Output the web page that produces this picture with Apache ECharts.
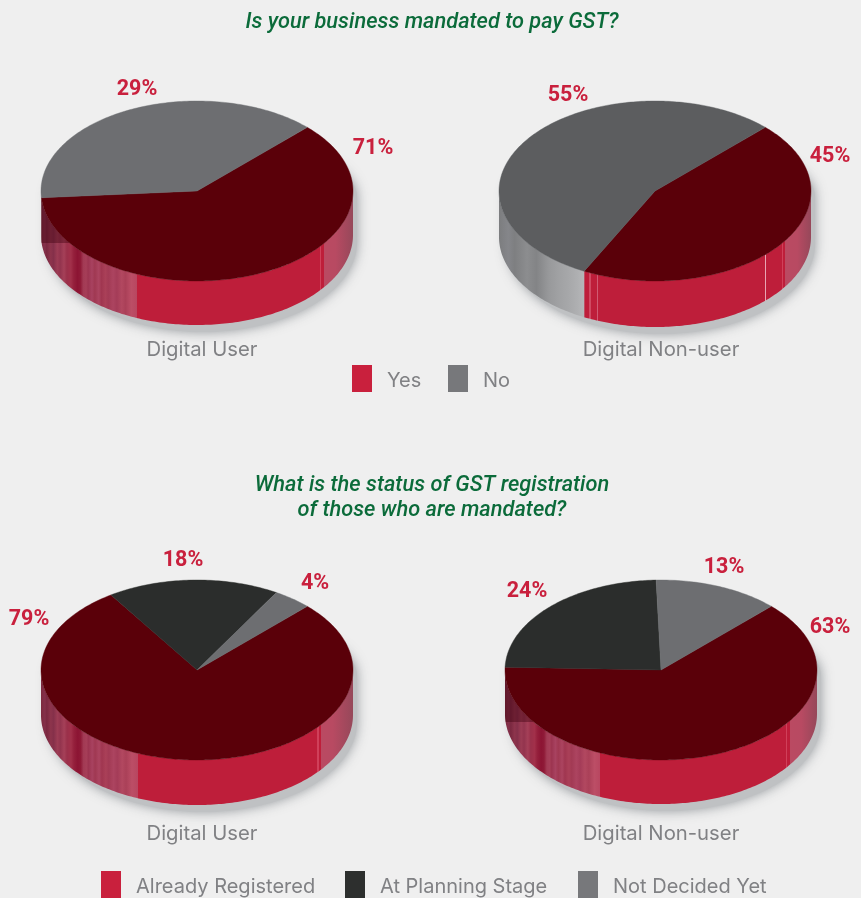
<!DOCTYPE html>
<html><head><meta charset="utf-8">
<style>html,body{margin:0;padding:0;background:#efefef}#c{width:861px;height:898px}</style>
<script src="https://cdn.jsdelivr.net/npm/echarts@6/dist/echarts.min.js"></script>
</head><body><div id="c"></div>
<script>
// Printed values
const pieCaptions = ['Digital User', 'Digital Non-user', 'Digital User', 'Digital Non-user'];
const yesPrinted = [71, 45];
const noPrinted = [29, 55];
const registeredPrinted = [79, 63];
const planningPrinted = [18, 24];
const undecidedPrinted = [4, 13];
// Slice shares as actually drawn in the picture (first pie is drawn smaller than its printed 71%)
const yesDrawn = [61.3, 45];
const noDrawn = [38.7, 55];
const registeredDrawn = [78.2, 63];
const planningDrawn = [17.8, 24];
const undecidedDrawn = [4, 13];

const FONT = 'Inter';
const pies = [
  {cx: 197, cy: 191, rx: 156, ry: 90, h: 44, band: true},
  {cx: 655, cy: 191, rx: 156, ry: 90, h: 46, band: false},
  {cx: 197, cy: 670, rx: 156, ry: 90, h: 45, band: false},
  {cx: 661, cy: 670, rx: 156, ry: 90, h: 44, band: true}
];
const START = 45;

function streaks(from, to) {
  const pick = [
    [0, '#7c2a3f'], [.04, '#84304a'], [.06, '#7a2840'], [.1, '#8d344c'], [.13, '#85304a'], [.17, '#9c3c54'], [.2, '#93344e'],
    [.24, '#a54058'], [.27, '#9a304a'], [.31, '#a2304a'], [.34, '#95203c'], [.38, '#8c1433'], [.41, '#8f1a37'],
    [.44, '#a23a54'], [.47, '#a63e58'], [.49, '#9c3450'], [.53, '#a84260'], [.56, '#a03852'], [.6, '#ab4460'],
    [.63, '#a03650'], [.67, '#aa4058'], [.7, '#a23a54'], [.75, '#ac4460'], [.79, '#a43c58'], [.84, '#b24860'],
    [.88, '#aa4058'], [.94, '#bc4e66'], [1, '#b84660']
  ];
  return pick.map(p => [from + (to - from) * p[0], p[1]]);
}
function hairline(line) {
  const pos = line[0], color = line[1];
  return [[pos, '#be1e3a'], [pos, color], [pos + .004, color], [pos + .004, '#be1e3a']];
}
function redWall(leftEnd, rightStart, lines) {
  let s = streaks(0, leftEnd);
  s.push([leftEnd, '#be1e3a']);
  (lines || []).forEach(l => { s = s.concat(hairline(l)); });
  s.push([rightStart, '#be1e3a'], [rightStart, '#d0405a'], [rightStart + .005, '#d0405a'],
         [rightStart + .005, '#be1e3a'], [rightStart + .012, '#be1e3a'], [rightStart + .012, '#ba4a62'],
         [rightStart + .05, '#b84a62'], [1, '#96485a']);
  return s;
}
const grayWall = [[0, '#7c7d7f'], [.03, '#85868a'], [.05, '#7e7f81'], [.09, '#8c8d8f'], [.12, '#838486'], [.16, '#98999b'], [.19, '#a0a1a3'], [.22, '#a6a7a9'], [.25, '#aeafb1'], [.276, '#b7b8ba'], [1, '#b7b8ba']];
const wallFills = {
  yes: [redWall(.308, .894), redWall(.27, .906, [[.29, '#cf4a62'], [.314, '#d05a72'], [.853, '#e8a4b2']]), null, null],
  reg: [null, null, redWall(.31, .885), redWall(.305, .9)],
  no: [null, grayWall, null, null]
};

const cats = [
  {name: 'Yes', key: 'yes', pies: [0, 1], drawn: yesDrawn, legend: '#c9203d', top: ['#5a0009', '#5a0009'], prior: []},
  {name: 'No', key: 'no', pies: [0, 1], drawn: noDrawn, legend: '#77787b', top: ['#6d6e71', '#5c5d5f'], prior: [yesDrawn]},
  {name: 'Already Registered', key: 'reg', pies: [2, 3], drawn: registeredDrawn, legend: '#c9203d', top: ['#5a0009', '#5a0009'], prior: []},
  {name: 'At Planning Stage', key: 'plan', pies: [2, 3], drawn: planningDrawn, legend: '#2d2f2e', top: ['#2b2d2c', '#2b2d2c'], prior: [registeredDrawn]},
  {name: 'Not Decided Yet', key: 'und', pies: [2, 3], drawn: undecidedDrawn, legend: '#77787b', top: ['#6d6e71', '#6d6e71'], prior: [registeredDrawn, planningDrawn]}
];

function pt(p, deg, dy) {
  const t = deg * Math.PI / 180;
  return [p.cx + p.rx * Math.cos(t), p.cy - p.ry * Math.sin(t) + (dy || 0)];
}
function arc(p, a, b, dy) {
  const n = Math.max(2, Math.ceil(Math.abs(a - b))), out = [];
  for (let i = 0; i <= n; i++) out.push(pt(p, a + (b - a) * i / n, dy));
  return out;
}
function sliceRender(cat) {
  return function (params, api) {
    const pi = api.value(0), startDeg = api.value(1), sweep = api.value(2), p = pies[pi];
    const a = startDeg, b = startDeg - sweep, children = [];
    const hi = Math.min(a, 0), lo = Math.max(b, -180);
    const fills = wallFills[cat.key];
    if (hi > lo && fills && fills[pi]) {
      children.push({
        type: 'polygon',
        shape: {points: arc(p, hi, lo, 0).concat(arc(p, lo, hi, p.h))},
        style: {fill: {type: 'linear', x: p.cx - p.rx, y: 0, x2: p.cx + p.rx, y2: 0, global: true,
          colorStops: fills[pi].map(s => ({offset: s[0], color: s[1]}))}}
      });
      if (p.band) {
        const topBack = -180 + Math.asin((p.h + 8) / p.ry) * 180 / Math.PI;
        const botBack = -180 + Math.asin(8 / p.ry) * 180 / Math.PI;
        children.push({
          type: 'polygon',
          shape: {points: arc(p, -180, topBack, 0).concat(arc(p, botBack, -180, p.h))},
          style: {fill: 'rgba(60,0,12,0.4)'}
        });
      }
    }
    children.push({
      type: 'polygon',
      shape: {points: [[p.cx, p.cy]].concat(arc(p, a, b, 0))},
      style: {fill: cat.top[cat.pies.indexOf(pi)], stroke: cat.top[cat.pies.indexOf(pi)], lineWidth: .4}
    });
    return {type: 'group', children};
  };
}
function shadowRender(params, api) {
  const p = pies[api.value(0)];
  const up = {cx: p.cx + 6, cy: p.cy + 6, rx: p.rx - 2, ry: p.ry - 30};
  const low = {cx: p.cx + 6, cy: p.cy, rx: p.rx - 2, ry: p.ry};
  return {
    type: 'polygon',
    shape: {points: arc(up, 0, 180, 0).concat(arc(low, 180, 360, p.h + 7))},
    style: {fill: '#bfc1c3', shadowBlur: 12, shadowColor: 'rgba(135,140,145,0.85)'}
  };
}

const series = [{
  type: 'custom', name: 'shadow', coordinateSystem: 'none', silent: true,
  data: pies.map((_, i) => [i]), renderItem: shadowRender
}];
cats.forEach(cat => {
  series.push({
    type: 'custom', name: cat.name, coordinateSystem: 'none', silent: true,
    itemStyle: {color: cat.legend},
    data: cat.pies.map((pi, k) => {
      const done = cat.prior.reduce((s, arr) => s + arr[k], 0);
      return [pi, START - done * 3.6, cat.drawn[k] * 3.6];
    }),
    renderItem: sliceRender(cat)
  });
});

const legendSpots = [
  {name: 'Yes', left: 352, top: 365}, {name: 'No', left: 448, top: 365},
  {name: 'Already Registered', left: 101, top: 871}, {name: 'At Planning Stage', left: 345, top: 871},
  {name: 'Not Decided Yet', left: 578, top: 871}
];
const legends = legendSpots.map(l => ({
  show: true, left: l.left, top: l.top, padding: 0, itemWidth: 20, itemHeight: 27, itemGap: 0,
  icon: 'rect', selectedMode: false, data: [l.name],
  formatter: '{a|{name}}',
  textStyle: {
    fontFamily: FONT, fontSize: 20, color: '#808184',
    rich: {a: {fontFamily: FONT, fontSize: 20, color: '#808184', padding: [4, 0, 0, 10]}}
  }
}));

function label(text, x, y) {
  return {type: 'text', x, y, style: {text, fontFamily: 'Roboto', fontWeight: 700, fontSize: 21.5, fill: '#c9203d', align: 'center', verticalAlign: 'middle'}};
}
function caption(text, x, y) {
  return {type: 'text', x, y, style: {text, fontFamily: FONT, fontSize: 20.3, fill: '#808184', align: 'center', verticalAlign: 'middle'}};
}
function heading(text, x, y) {
  return {type: 'text', x, y, style: {text, fontFamily: 'Roboto', fontStyle: 'italic', fontWeight: 500, fontSize: 21.8, fill: '#0b6b3a', align: 'center', verticalAlign: 'middle'}};
}
const graphicEls = [
  heading('Is your business mandated to pay GST?', 432, 23),
  heading('What is the status of GST registration', 432, 486),
  heading('of those who are mandated?', 432, 511),
  caption(pieCaptions[0], 202, 350), caption(pieCaptions[1], 661, 350),
  caption(pieCaptions[2], 202, 834), caption(pieCaptions[3], 661, 834),
  label(yesPrinted[0] + '%', 373, 149), label(noPrinted[0] + '%', 137, 90),
  label(yesPrinted[1] + '%', 830, 157), label(noPrinted[1] + '%', 568, 96),
  label(registeredPrinted[0] + '%', 29, 620), label(planningPrinted[0] + '%', 183, 561), label(undecidedPrinted[0] + '%', 315, 584),
  label(registeredPrinted[1] + '%', 830, 628), label(planningPrinted[1] + '%', 527, 592), label(undecidedPrinted[1] + '%', 724, 568)
];

const chart = echarts.init(document.getElementById('c'), null, {renderer: 'canvas'});
chart.setOption({
  animation: false, backgroundColor: '#efefef',
  legend: legends, series, graphic: {elements: graphicEls}
});
</script></body></html>
